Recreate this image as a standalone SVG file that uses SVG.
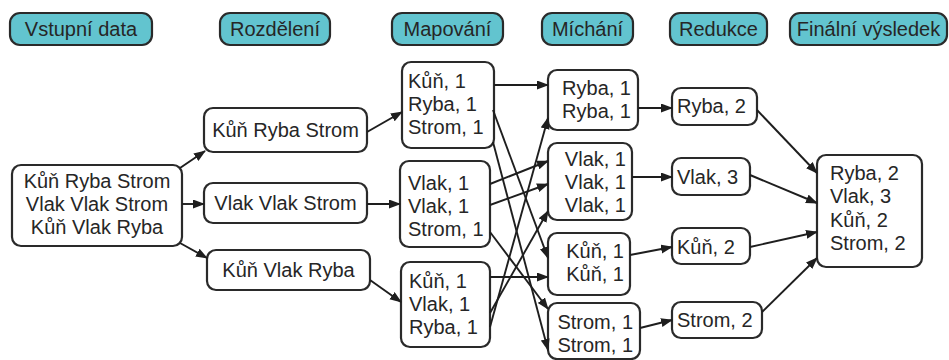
<svg xmlns="http://www.w3.org/2000/svg" width="949" height="360" viewBox="0 0 949 360">
<style>
.hdr rect{fill:#62c4cf;stroke:#2a2a2a;stroke-width:2.2}
.nd rect{fill:#fff;stroke:#2a2a2a;stroke-width:2.2}
text{font-family:"Liberation Sans",Arial,sans-serif;font-size:20px;fill:#262626}
.c{text-anchor:middle}
.r{text-anchor:end}
#connectors line{stroke:#1e1e1e;stroke-width:1.9;marker-end:url(#ah)}
</style>
<defs>
<marker id="ah" markerUnits="userSpaceOnUse" markerWidth="12" markerHeight="10" refX="11" refY="4.5" orient="auto">
<path d="M0,0 L12,4.5 L0,9 z" fill="#1e1e1e"/>
</marker>
</defs>
<rect width="949" height="360" fill="#fff"/>
<g id="h1" class="hdr"><rect x="10" y="13" width="142" height="32" rx="10"/><text class="c" x="81" y="36">Vstupní data</text></g>
<g id="h2" class="hdr"><rect x="220" y="13" width="110" height="32" rx="10"/><text class="c" x="275" y="36">Rozdělení</text></g>
<g id="h3" class="hdr"><rect x="392" y="13" width="111" height="32" rx="10"/><text class="c" x="447.5" y="36">Mapování</text></g>
<g id="h4" class="hdr"><rect x="542" y="13" width="91" height="32" rx="10"/><text class="c" x="587.5" y="36">Míchání</text></g>
<g id="h5" class="hdr"><rect x="670" y="13" width="97" height="32" rx="10"/><text class="c" x="718.5" y="36">Redukce</text></g>
<g id="h6" class="hdr"><rect x="790" y="13" width="157" height="32" rx="10"/><text class="c" x="868.5" y="36">Finální výsledek</text></g>

<g id="input" class="nd"><rect x="12" y="165" width="170" height="81" rx="9"/>
<text class="c" x="97" y="188">Kůň Ryba Strom</text><text class="c" x="97" y="211">Vlak Vlak Strom</text><text class="c" x="97" y="234">Kůň Vlak Ryba</text></g>

<g id="split1" class="nd"><rect x="204" y="108" width="163" height="44" rx="9"/><text class="c" x="285.5" y="137">Kůň Ryba Strom</text></g>
<g id="split2" class="nd"><rect x="204" y="183" width="163" height="40" rx="9"/><text class="c" x="285.5" y="210">Vlak Vlak Strom</text></g>
<g id="split3" class="nd"><rect x="207" y="250" width="163" height="40" rx="9"/><text class="c" x="288.5" y="277">Kůň Vlak Ryba</text></g>

<g id="map1" class="nd"><rect x="402" y="62" width="92" height="86" rx="9"/>
<text x="408" y="88">Kůň, 1</text><text x="408" y="111">Ryba, 1</text><text x="408" y="134">Strom, 1</text></g>
<g id="map2" class="nd"><rect x="400" y="161" width="90" height="86" rx="9"/>
<text x="408" y="190">Vlak, 1</text><text x="408" y="213">Vlak, 1</text><text x="408" y="236">Strom, 1</text></g>
<g id="map3" class="nd"><rect x="401" y="262" width="89" height="85" rx="9"/>
<text x="409" y="288">Kůň, 1</text><text x="409" y="311">Vlak, 1</text><text x="409" y="334">Ryba, 1</text></g>

<g id="mix1" class="nd"><rect x="548" y="70" width="90" height="60" rx="9"/>
<text class="r" x="631" y="95">Ryba, 1</text><text class="r" x="631" y="118">Ryba, 1</text></g>
<g id="mix2" class="nd"><rect x="548" y="143" width="84" height="77" rx="9"/>
<text class="r" x="626" y="166">Vlak, 1</text><text class="r" x="626" y="189">Vlak, 1</text><text class="r" x="626" y="212">Vlak, 1</text></g>
<g id="mix3" class="nd"><rect x="548" y="233" width="82" height="62" rx="9"/>
<text class="r" x="624" y="258">Kůň, 1</text><text class="r" x="624" y="281">Kůň, 1</text></g>
<g id="mix4" class="nd"><rect x="548" y="303" width="92" height="56" rx="9"/>
<text class="r" x="633" y="329">Strom, 1</text><text class="r" x="633" y="352">Strom, 1</text></g>

<g id="red1" class="nd"><rect x="672" y="88" width="85" height="37" rx="9"/><text x="677" y="113">Ryba, 2</text></g>
<g id="red2" class="nd"><rect x="672" y="158" width="78" height="37" rx="9"/><text x="677" y="184">Vlak, 3</text></g>
<g id="red3" class="nd"><rect x="672" y="228" width="78" height="36" rx="9"/><text x="677" y="254">Kůň, 2</text></g>
<g id="red4" class="nd"><rect x="672" y="302" width="90" height="36" rx="9"/><text x="677" y="327">Strom, 2</text></g>

<g id="final" class="nd"><rect x="817" y="155" width="105" height="112" rx="9"/>
<text x="830" y="180">Ryba, 2</text><text x="830" y="203">Vlak, 3</text><text x="830" y="227">Kůň, 2</text><text x="830" y="250">Strom, 2</text></g>

<g id="connectors">
<line x1="180" y1="168" x2="205" y2="151"/>
<line x1="182" y1="204" x2="204" y2="204"/>
<line x1="180" y1="243" x2="207" y2="258"/>
<line x1="367" y1="132" x2="402" y2="112"/>
<line x1="367" y1="204" x2="400" y2="204"/>
<line x1="370" y1="280" x2="401" y2="302"/>
<line x1="494" y1="85" x2="548" y2="85"/>
<line x1="493" y1="110" x2="548" y2="258"/>
<line x1="493" y1="142" x2="548" y2="350"/>
<line x1="490" y1="184" x2="548" y2="161"/>
<line x1="490" y1="205" x2="548" y2="184"/>
<line x1="490" y1="232" x2="548" y2="309"/>
<line x1="490" y1="277" x2="548" y2="277"/>
<line x1="490" y1="313" x2="548" y2="211"/>
<line x1="490" y1="327" x2="548" y2="118"/>
<line x1="638" y1="108" x2="672" y2="108"/>
<line x1="632" y1="177" x2="672" y2="177"/>
<line x1="630" y1="255" x2="672" y2="247"/>
<line x1="640" y1="328" x2="672" y2="320"/>
<line x1="757" y1="110" x2="817" y2="173"/>
<line x1="750" y1="175" x2="817" y2="203"/>
<line x1="750" y1="247" x2="817" y2="232"/>
<line x1="762" y1="312" x2="817" y2="258"/>
</g>
</svg>
